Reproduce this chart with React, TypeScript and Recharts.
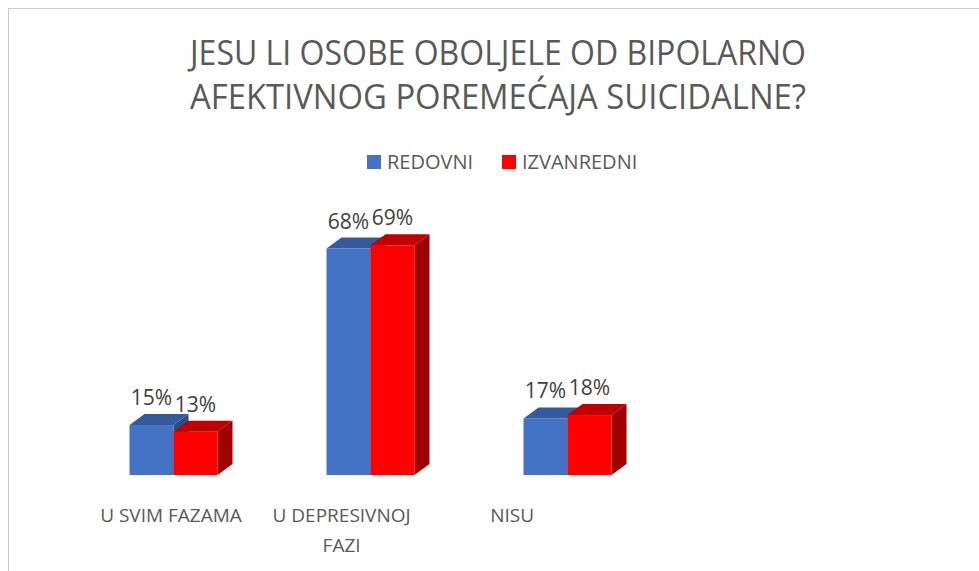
import React from 'react';
import { BarChart, Bar, XAxis, YAxis, Legend, LabelList } from 'recharts';

const categories = ['U SVIM FAZAMA', 'U DEPRESIVNOJ FAZI', 'NISU'];
const redovni = [15, 68, 17];
const izvanredni = [13, 69, 18];
const seriesNames = ['REDOVNI', 'IZVANREDNI'];
const titleLines = ['JESU LI OSOBE OBOLJELE OD BIPOLARNO', 'AFEKTIVNOG POREMEĆAJA SUICIDALNE?'];

const data = categories.map((c, i) => ({ name: c, redovni: redovni[i], izvanredni: izvanredni[i] }));

const DX = 15;
const DY = 11;
const FONT = '"Open Sans", "Noto Sans", sans-serif';

const BLUE = { front: '#4472C4', top: '#335A9C', side: '#2B4C87' };
const RED = { front: '#FF0000', top: '#C00000', side: '#9E0000' };

const makeBox = (c: { front: string; top: string; side: string }) => (props: any) => {
  const { x, y, width, height } = props;
  if (width == null || height == null) return null;
  const top = `${x},${y} ${x + DX},${y - DY} ${x + width + DX},${y - DY} ${x + width},${y}`;
  const side = `${x + width},${y} ${x + width + DX},${y - DY} ${x + width + DX},${y + height - DY} ${x + width},${y + height}`;
  return (
    <g>
      <polygon points={side} fill={c.side} />
      <polygon points={top} fill={c.top} />
      <rect x={x} y={y} width={width} height={height} fill={c.front} />
    </g>
  );
};

const wrap = (s: string, max: number) => {
  const words = s.split(' ');
  const lines: string[] = [];
  let cur = '';
  for (const w of words) {
    const next = cur ? cur + ' ' + w : w;
    if (next.length > max && cur) {
      lines.push(cur);
      cur = w;
    } else cur = next;
  }
  if (cur) lines.push(cur);
  return lines;
};

const Tick = (props: any) => {
  const { x, y, payload } = props;
  // oblique projection shift of the front-plane labels
  const first = props.firstX ?? x;
  const px = x - (x - first) * 0.134 - 2;
  const lines = wrap(String(payload.value), 14);
  return (
    <g>
      {lines.map((l, i) => (
        <text key={i} x={px} y={y + 47 + i * 30} textAnchor="middle" fill="#595959" fontFamily={FONT} fontSize={19}>
          {l}
        </text>
      ))}
    </g>
  );
};

const makeLabel = () => (props: any) => {
  const { x, y, width, value } = props;
  return (
    <text x={x + width / 2} y={y - 20} textAnchor="middle" fill="#404040" fontFamily={FONT} fontSize={21}>
      {value}%
    </text>
  );
};

const LegendContent = () => (
  <svg width={979} height={30} style={{ display: 'block' }}>
    <rect x={367} y={10} width={14} height={14} fill={BLUE.front} />
    <text x={387} y={24} fill="#595959" fontFamily={FONT} fontSize={20}>
      {seriesNames[0]}
    </text>
    <rect x={502} y={10} width={14} height={14} fill={RED.front} />
    <text x={522} y={24} fill="#595959" fontFamily={FONT} fontSize={20}>
      {seriesNames[1]}
    </text>
  </svg>
);

export default function App() {
  let firstX: number | null = null;
  return (
    <div style={{ position: 'absolute', left: 0, top: 0, width: 979, height: 571, background: '#fff', overflow: 'hidden' }}>
      <div
        style={{
          position: 'absolute',
          left: 8,
          top: 8,
          right: -10,
          bottom: -10,
          borderLeft: '1px solid #c9c9c9',
          borderTop: '1px solid #c9c9c9',
        }}
      />
      <svg width={979} height={571} style={{ position: 'absolute', left: 0, top: 0 }}>
        {titleLines.map((t, i) => (
          <text
            key={i}
            x={498}
            y={65 + i * 44}
            textAnchor="middle"
            fill="#595959"
            fontFamily={FONT}
            fontSize={34}
            textLength={616}
            lengthAdjust="spacingAndGlyphs"
          >
            {t}
          </text>
        ))}
      </svg>
      <div style={{ position: 'absolute', left: 0, top: 0 }}>
        <BarChart
          width={979}
          height={571}
          data={data}
          margin={{ top: 208.6, right: 313.5, bottom: 36, left: 74.5 }}
          barGap={0}
          barSize={44}
        >
          <XAxis
            dataKey="name"
            axisLine={false}
            tickLine={false}
            tickSize={0}
            tickMargin={0}
            height={60}
            interval={0}
            tick={(p: any) => {
              if (p.index === 0) firstX = p.x;
              return <Tick {...p} firstX={firstX} />;
            }}
          />
          <YAxis hide width={0} domain={[0, 80]} />
          <Legend
            layout="horizontal"
            verticalAlign="middle"
            align="center"
            wrapperStyle={{ top: 145, left: 0, width: 979 }}
            content={() => <LegendContent />}
          />
          <Bar dataKey="redovni" name={seriesNames[0]} fill={BLUE.front} shape={makeBox(BLUE)} isAnimationActive={false}>
            <LabelList dataKey="redovni" content={makeLabel()} />
          </Bar>
          <Bar dataKey="izvanredni" name={seriesNames[1]} fill={RED.front} shape={makeBox(RED)} isAnimationActive={false}>
            <LabelList dataKey="izvanredni" content={makeLabel()} />
          </Bar>
        </BarChart>
      </div>
    </div>
  );
}
